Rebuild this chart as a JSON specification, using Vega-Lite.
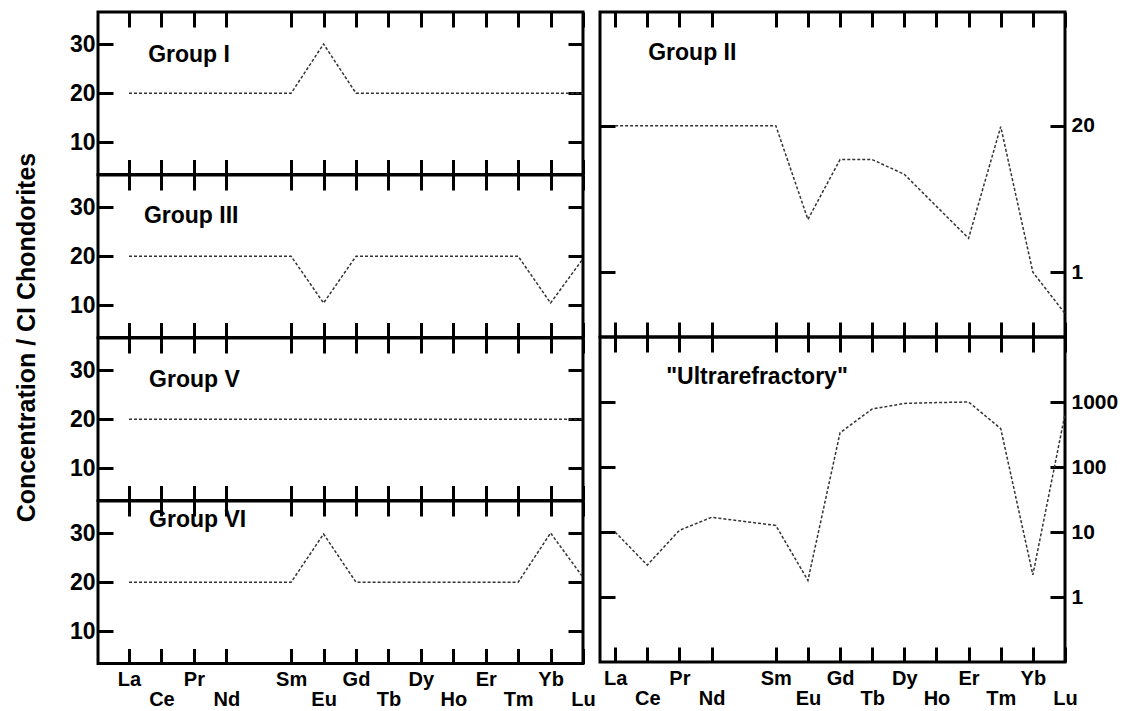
{
  "$schema": "https://vega.github.io/schema/vega-lite/v6.json",
  "background": "white",
  "padding": {"left": 12, "top": 9, "right": 5, "bottom": 0},
  "datasets": {
    "ree": [
      {"panel":"Group I","el":"La","Z":57,"v":20},{"panel":"Group I","el":"Ce","Z":58,"v":20},{"panel":"Group I","el":"Pr","Z":59,"v":20},{"panel":"Group I","el":"Nd","Z":60,"v":20},{"panel":"Group I","el":"Sm","Z":62,"v":20},{"panel":"Group I","el":"Eu","Z":63,"v":30},{"panel":"Group I","el":"Gd","Z":64,"v":20},{"panel":"Group I","el":"Tb","Z":65,"v":20},{"panel":"Group I","el":"Dy","Z":66,"v":20},{"panel":"Group I","el":"Ho","Z":67,"v":20},{"panel":"Group I","el":"Er","Z":68,"v":20},{"panel":"Group I","el":"Tm","Z":69,"v":20},{"panel":"Group I","el":"Yb","Z":70,"v":20},{"panel":"Group I","el":"Lu","Z":71,"v":20},
      {"panel":"Group III","el":"La","Z":57,"v":20},{"panel":"Group III","el":"Ce","Z":58,"v":20},{"panel":"Group III","el":"Pr","Z":59,"v":20},{"panel":"Group III","el":"Nd","Z":60,"v":20},{"panel":"Group III","el":"Sm","Z":62,"v":20},{"panel":"Group III","el":"Eu","Z":63,"v":10.5},{"panel":"Group III","el":"Gd","Z":64,"v":20},{"panel":"Group III","el":"Tb","Z":65,"v":20},{"panel":"Group III","el":"Dy","Z":66,"v":20},{"panel":"Group III","el":"Ho","Z":67,"v":20},{"panel":"Group III","el":"Er","Z":68,"v":20},{"panel":"Group III","el":"Tm","Z":69,"v":20},{"panel":"Group III","el":"Yb","Z":70,"v":10.5},{"panel":"Group III","el":"Lu","Z":71,"v":19.5},
      {"panel":"Group V","el":"La","Z":57,"v":20},{"panel":"Group V","el":"Ce","Z":58,"v":20},{"panel":"Group V","el":"Pr","Z":59,"v":20},{"panel":"Group V","el":"Nd","Z":60,"v":20},{"panel":"Group V","el":"Sm","Z":62,"v":20},{"panel":"Group V","el":"Eu","Z":63,"v":20},{"panel":"Group V","el":"Gd","Z":64,"v":20},{"panel":"Group V","el":"Tb","Z":65,"v":20},{"panel":"Group V","el":"Dy","Z":66,"v":20},{"panel":"Group V","el":"Ho","Z":67,"v":20},{"panel":"Group V","el":"Er","Z":68,"v":20},{"panel":"Group V","el":"Tm","Z":69,"v":20},{"panel":"Group V","el":"Yb","Z":70,"v":20},{"panel":"Group V","el":"Lu","Z":71,"v":20},
      {"panel":"Group VI","el":"La","Z":57,"v":20},{"panel":"Group VI","el":"Ce","Z":58,"v":20},{"panel":"Group VI","el":"Pr","Z":59,"v":20},{"panel":"Group VI","el":"Nd","Z":60,"v":20},{"panel":"Group VI","el":"Sm","Z":62,"v":20},{"panel":"Group VI","el":"Eu","Z":63,"v":29.8},{"panel":"Group VI","el":"Gd","Z":64,"v":20},{"panel":"Group VI","el":"Tb","Z":65,"v":20},{"panel":"Group VI","el":"Dy","Z":66,"v":20},{"panel":"Group VI","el":"Ho","Z":67,"v":20},{"panel":"Group VI","el":"Er","Z":68,"v":20},{"panel":"Group VI","el":"Tm","Z":69,"v":20},{"panel":"Group VI","el":"Yb","Z":70,"v":30},{"panel":"Group VI","el":"Lu","Z":71,"v":21},
      {"panel":"Group II","el":"La","Z":57,"v":20},{"panel":"Group II","el":"Ce","Z":58,"v":20},{"panel":"Group II","el":"Pr","Z":59,"v":20},{"panel":"Group II","el":"Nd","Z":60,"v":20},{"panel":"Group II","el":"Sm","Z":62,"v":20},{"panel":"Group II","el":"Eu","Z":63,"v":2.94},{"panel":"Group II","el":"Gd","Z":64,"v":10},{"panel":"Group II","el":"Tb","Z":65,"v":10},{"panel":"Group II","el":"Dy","Z":66,"v":7.4},{"panel":"Group II","el":"Ho","Z":67,"v":3.84},{"panel":"Group II","el":"Er","Z":68,"v":2.0},{"panel":"Group II","el":"Tm","Z":69,"v":19.6},{"panel":"Group II","el":"Yb","Z":70,"v":1.0},{"panel":"Group II","el":"Lu","Z":71,"v":0.43},
      {"panel":"Ultra","el":"La","Z":57,"v":10},{"panel":"Ultra","el":"Ce","Z":58,"v":3.1},{"panel":"Ultra","el":"Pr","Z":59,"v":10.6},{"panel":"Ultra","el":"Nd","Z":60,"v":16.8},{"panel":"Ultra","el":"Sm","Z":62,"v":12.6},{"panel":"Ultra","el":"Eu","Z":63,"v":1.8},{"panel":"Ultra","el":"Gd","Z":64,"v":337},{"panel":"Ultra","el":"Tb","Z":65,"v":780},{"panel":"Ultra","el":"Dy","Z":66,"v":950},{"panel":"Ultra","el":"Ho","Z":67,"v":980},{"panel":"Ultra","el":"Er","Z":68,"v":1000},{"panel":"Ultra","el":"Tm","Z":69,"v":390},{"panel":"Ultra","el":"Yb","Z":70,"v":2.2},{"panel":"Ultra","el":"Lu","Z":71,"v":650}
    ]
  },
  "config": {
    "view": {"stroke": "black", "strokeWidth": 3},
    "font": "Liberation Sans",
    "axis": {
      "domain": false, "grid": false, "title": null,
      "tickColor": "black", "tickWidth": 3,
      "labelColor": "black", "labelFont": "Liberation Sans", "labelFontSize": 21, "labelFontWeight": "bold",
      "labelFlush": false, "labelOverlap": false, "labelBound": false
    }
  },
  "hconcat": [
    {
      "vconcat": [
        {
          "width": 485, "height": 162.5,
          "data": {"name": "ree"},
          "transform": [{"filter": "datum.panel === 'Group I'"}],
          "layer": [
            {"mark": {"type": "line", "opacity": 0},
             "encoding": {
               "x": {"field": "Z", "type": "quantitative", "scale": {"domain": [56.044, 71], "nice": false, "zero": false}, "axis": {"orient": "top", "labels": false, "tickSize": -15, "values": [57,58,59,60,62,63,64,65,66,67,68,69,70,71]}},
               "y": {"field": "v", "type": "quantitative", "scale": {"domain": [3.5, 36.5], "nice": false, "zero": false}, "axis": {"orient": "right", "labels": false, "tickSize": -15, "values": [10,20,30]}}}},
            {"mark": {"type": "line", "opacity": 0},
             "encoding": {
               "x": {"field": "Z", "type": "quantitative", "axis": {"orient": "bottom", "labels": false, "tickSize": -15, "values": [57,58,59,60,62,63,64,65,66,67,68,69,70,71]}},
               "y": {"field": "v", "type": "quantitative", "axis": {"orient": "left", "labels": false, "tickSize": -15, "values": [10,20,30]}}}},
            {"mark": {"type": "line", "color": "#333333", "strokeWidth": 1.5, "strokeDash": [3, 2]},
             "encoding": {
               "x": {"field": "Z", "type": "quantitative", "axis": null},
               "y": {"field": "v", "type": "quantitative", "axis": {"orient": "left", "ticks": false, "labelPadding": 3, "labelFontSize": 23, "values": [10,20,30], "format": "d"}}}},
            {"data": {"values": [{"t": "Group I"}]},
             "mark": {"type": "text", "align": "left", "baseline": "alphabetic", "fontSize": 23, "fontWeight": "bold", "color": "black"},
             "encoding": {"x": {"datum": 57.59, "type": "quantitative", "axis": null}, "y": {"datum": 26.3, "type": "quantitative", "axis": null}, "text": {"field": "t"}}}
          ],
          "resolve": {"axis": {"x": "independent", "y": "independent"}}
        },
        {
          "width": 485, "height": 162.5,
          "data": {"name": "ree"},
          "transform": [{"filter": "datum.panel === 'Group III'"}],
          "layer": [
            {"mark": {"type": "line", "opacity": 0},
             "encoding": {
               "x": {"field": "Z", "type": "quantitative", "scale": {"domain": [56.044, 71], "nice": false, "zero": false}, "axis": {"orient": "top", "labels": false, "tickSize": -15, "values": [57,58,59,60,62,63,64,65,66,67,68,69,70,71]}},
               "y": {"field": "v", "type": "quantitative", "scale": {"domain": [3.5, 36.5], "nice": false, "zero": false}, "axis": {"orient": "right", "labels": false, "tickSize": -15, "values": [10,20,30]}}}},
            {"mark": {"type": "line", "opacity": 0},
             "encoding": {
               "x": {"field": "Z", "type": "quantitative", "axis": {"orient": "bottom", "labels": false, "tickSize": -15, "values": [57,58,59,60,62,63,64,65,66,67,68,69,70,71]}},
               "y": {"field": "v", "type": "quantitative", "axis": {"orient": "left", "labels": false, "tickSize": -15, "values": [10,20,30]}}}},
            {"mark": {"type": "line", "color": "#333333", "strokeWidth": 1.5, "strokeDash": [3, 2]},
             "encoding": {
               "x": {"field": "Z", "type": "quantitative", "axis": null},
               "y": {"field": "v", "type": "quantitative", "axis": {"orient": "left", "ticks": false, "labelPadding": 3, "labelFontSize": 23, "values": [10,20,30], "format": "d",
                 "title": "Concentration / CI Chondorites", "titleFont": "Liberation Sans", "titleFontSize": 25, "titleFontWeight": "bold", "titleColor": "black", "titleAngle": -90, "titleBaseline": "middle", "titleAlign": "center", "titleX": -72, "titleY": 162}}}},
            {"data": {"values": [{"t": "Group III"}]},
             "mark": {"type": "text", "align": "left", "baseline": "alphabetic", "fontSize": 23, "fontWeight": "bold", "color": "black"},
             "encoding": {"x": {"datum": 57.46, "type": "quantitative", "axis": null}, "y": {"datum": 26.7, "type": "quantitative", "axis": null}, "text": {"field": "t"}}}
          ],
          "resolve": {"axis": {"x": "independent", "y": "independent"}}
        },
        {
          "width": 485, "height": 162.5,
          "data": {"name": "ree"},
          "transform": [{"filter": "datum.panel === 'Group V'"}],
          "layer": [
            {"mark": {"type": "line", "opacity": 0},
             "encoding": {
               "x": {"field": "Z", "type": "quantitative", "scale": {"domain": [56.044, 71], "nice": false, "zero": false}, "axis": {"orient": "top", "labels": false, "tickSize": -15, "values": [57,58,59,60,62,63,64,65,66,67,68,69,70,71]}},
               "y": {"field": "v", "type": "quantitative", "scale": {"domain": [3.5, 36.5], "nice": false, "zero": false}, "axis": {"orient": "right", "labels": false, "tickSize": -15, "values": [10,20,30]}}}},
            {"mark": {"type": "line", "opacity": 0},
             "encoding": {
               "x": {"field": "Z", "type": "quantitative", "axis": {"orient": "bottom", "labels": false, "tickSize": -15, "values": [57,58,59,60,62,63,64,65,66,67,68,69,70,71]}},
               "y": {"field": "v", "type": "quantitative", "axis": {"orient": "left", "labels": false, "tickSize": -15, "values": [10,20,30]}}}},
            {"mark": {"type": "line", "color": "#333333", "strokeWidth": 1.5, "strokeDash": [3, 2]},
             "encoding": {
               "x": {"field": "Z", "type": "quantitative", "axis": null},
               "y": {"field": "v", "type": "quantitative", "axis": {"orient": "left", "ticks": false, "labelPadding": 3, "labelFontSize": 23, "values": [10,20,30], "format": "d"}}}},
            {"data": {"values": [{"t": "Group V"}]},
             "mark": {"type": "text", "align": "left", "baseline": "alphabetic", "fontSize": 23, "fontWeight": "bold", "color": "black"},
             "encoding": {"x": {"datum": 57.62, "type": "quantitative", "axis": null}, "y": {"datum": 26.5, "type": "quantitative", "axis": null}, "text": {"field": "t"}}}
          ],
          "resolve": {"axis": {"x": "independent", "y": "independent"}}
        },
        {
          "width": 485, "height": 162.5,
          "data": {"name": "ree"},
          "transform": [{"filter": "datum.panel === 'Group VI'"}],
          "layer": [
            {"mark": {"type": "line", "opacity": 0},
             "encoding": {
               "x": {"field": "Z", "type": "quantitative", "scale": {"domain": [56.044, 71], "nice": false, "zero": false}, "axis": {"orient": "top", "labels": false, "tickSize": -15, "values": [57,58,59,60,62,63,64,65,66,67,68,69,70,71]}},
               "y": {"field": "v", "type": "quantitative", "scale": {"domain": [3.5, 36.5], "nice": false, "zero": false}, "axis": {"orient": "right", "labels": false, "tickSize": -15, "values": [10,20,30]}}}},
            {"mark": {"type": "line", "opacity": 0},
             "encoding": {
               "x": {"field": "Z", "type": "quantitative", "axis": {"orient": "bottom", "labels": false, "tickSize": -15, "values": [57,58,59,60,62,63,64,65,66,67,68,69,70,71]}},
               "y": {"field": "v", "type": "quantitative", "axis": {"orient": "left", "labels": false, "tickSize": -15, "values": [10,20,30]}}}},
            {"mark": {"type": "line", "color": "#333333", "strokeWidth": 1.5, "strokeDash": [3, 2]},
             "encoding": {
               "x": {"field": "Z", "type": "quantitative", "axis": {"orient": "bottom", "ticks": false, "labelPadding": 6, "labelLineHeight": 20, "labelFontSize": 20, "values": [57,58,59,60,62,63,64,65,66,67,68,69,70,71],
                 "labelExpr": "indexof([58,60,63,65,67,69,71], datum.value) >= 0 ? ['', split('La,Ce,Pr,Nd,Pm,Sm,Eu,Gd,Tb,Dy,Ho,Er,Tm,Yb,Lu', ',')[datum.value - 57]] : split('La,Ce,Pr,Nd,Pm,Sm,Eu,Gd,Tb,Dy,Ho,Er,Tm,Yb,Lu', ',')[datum.value - 57]"}},
               "y": {"field": "v", "type": "quantitative", "axis": {"orient": "left", "ticks": false, "labelPadding": 3, "labelFontSize": 23, "values": [10,20,30], "format": "d"}}}},
            {"data": {"values": [{"t": "Group VI"}]},
             "mark": {"type": "text", "align": "left", "baseline": "alphabetic", "fontSize": 23, "fontWeight": "bold", "color": "black"},
             "encoding": {"x": {"datum": 57.62, "type": "quantitative", "axis": null}, "y": {"datum": 31.2, "type": "quantitative", "axis": null}, "text": {"field": "t"}}}
          ],
          "resolve": {"axis": {"x": "independent", "y": "independent"}}
        }
      ],
      "spacing": 0,
      "bounds": "flush"
    },
    {
      "vconcat": [
        {
          "width": 465, "height": 325,
          "data": {"name": "ree"},
          "transform": [{"filter": "datum.panel === 'Group II'"}],
          "layer": [
            {"mark": {"type": "line", "opacity": 0},
             "encoding": {
               "x": {"field": "Z", "type": "quantitative", "scale": {"domain": [56.53, 71], "nice": false, "zero": false}, "axis": {"orient": "top", "labels": false, "tickSize": -15, "values": [57,58,59,60,62,63,64,65,66,67,68,69,70,71]}},
               "y": {"field": "v", "type": "quantitative", "scale": {"type": "log", "domain": [0.266, 204], "nice": false}, "axis": {"orient": "right", "labels": false, "tickSize": -15, "values": [1, 20]}}}},
            {"mark": {"type": "line", "opacity": 0},
             "encoding": {
               "x": {"field": "Z", "type": "quantitative", "axis": {"orient": "bottom", "labels": false, "tickSize": -15, "values": [57,58,59,60,62,63,64,65,66,67,68,69,70,71]}},
               "y": {"field": "v", "type": "quantitative", "axis": {"orient": "left", "labels": false, "tickSize": -15, "values": [1, 20]}}}},
            {"mark": {"type": "line", "color": "#333333", "strokeWidth": 1.5, "strokeDash": [3, 2]},
             "encoding": {
               "x": {"field": "Z", "type": "quantitative", "axis": null},
               "y": {"field": "v", "type": "quantitative", "axis": {"orient": "right", "ticks": false, "labelPadding": 6, "values": [1, 20], "format": "d"}}}},
            {"data": {"values": [{"t": "Group II"}]},
             "mark": {"type": "text", "align": "left", "baseline": "alphabetic", "fontSize": 23, "fontWeight": "bold", "color": "black"},
             "encoding": {"x": {"datum": 58.03, "type": "quantitative", "axis": null}, "y": {"datum": 76.8, "type": "quantitative", "axis": null}, "text": {"field": "t"}}}
          ],
          "resolve": {"axis": {"x": "independent", "y": "independent"}}
        },
        {
          "width": 465, "height": 325,
          "data": {"name": "ree"},
          "transform": [{"filter": "datum.panel === 'Ultra'"}],
          "layer": [
            {"mark": {"type": "line", "opacity": 0},
             "encoding": {
               "x": {"field": "Z", "type": "quantitative", "scale": {"domain": [56.53, 71], "nice": false, "zero": false}, "axis": {"orient": "top", "labels": false, "tickSize": -15, "values": [57,58,59,60,62,63,64,65,66,67,68,69,70,71]}},
               "y": {"field": "v", "type": "quantitative", "scale": {"type": "log", "domain": [0.1, 10000], "nice": false}, "axis": {"orient": "right", "labels": false, "tickSize": -15, "values": [1, 10, 100, 1000]}}}},
            {"mark": {"type": "line", "opacity": 0},
             "encoding": {
               "x": {"field": "Z", "type": "quantitative", "axis": {"orient": "bottom", "labels": false, "tickSize": -15, "values": [57,58,59,60,62,63,64,65,66,67,68,69,70,71]}},
               "y": {"field": "v", "type": "quantitative", "axis": {"orient": "left", "labels": false, "tickSize": -15, "values": [1, 10, 100, 1000]}}}},
            {"mark": {"type": "line", "color": "#333333", "strokeWidth": 1.5, "strokeDash": [3, 2]},
             "encoding": {
               "x": {"field": "Z", "type": "quantitative", "axis": {"orient": "bottom", "ticks": false, "labelPadding": 6, "labelLineHeight": 20, "labelFontSize": 20, "values": [57,58,59,60,62,63,64,65,66,67,68,69,70,71],
                 "labelExpr": "indexof([58,60,63,65,67,69,71], datum.value) >= 0 ? ['', split('La,Ce,Pr,Nd,Pm,Sm,Eu,Gd,Tb,Dy,Ho,Er,Tm,Yb,Lu', ',')[datum.value - 57]] : split('La,Ce,Pr,Nd,Pm,Sm,Eu,Gd,Tb,Dy,Ho,Er,Tm,Yb,Lu', ',')[datum.value - 57]"}},
               "y": {"field": "v", "type": "quantitative", "axis": {"orient": "right", "ticks": false, "labelPadding": 6, "values": [1, 10, 100, 1000], "format": "d"}}}},
            {"data": {"values": [{"t": "\"Ultrarefractory\""}]},
             "mark": {"type": "text", "align": "left", "baseline": "alphabetic", "fontSize": 23, "fontWeight": "bold", "color": "black"},
             "encoding": {"x": {"datum": 58.59, "type": "quantitative", "axis": null}, "y": {"datum": 1893, "type": "quantitative", "axis": null}, "text": {"field": "t"}}}
          ],
          "resolve": {"axis": {"x": "independent", "y": "independent"}}
        }
      ],
      "spacing": 0,
      "bounds": "flush"
    }
  ],
  "spacing": 0
}
